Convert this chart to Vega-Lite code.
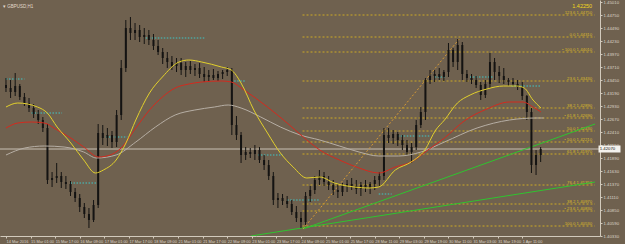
{
"$schema": "https://vega.github.io/schema/vega-lite/v6.json",
"width": 600, "height": 236,
"autosize": {"type": "none"},
"padding": {"left": 0, "top": 0, "right": 25, "bottom": 8},
"background": "#6f614f",
"resolve": {"axis": {"x": "independent", "y": "independent"}},
"config": {"view": {"stroke": null, "fill": "#6f614f"},
 "axis": {"grid": false, "labelFont": "Liberation Sans", "domainColor": "#d2cabc", "tickColor": "#d2cabc", "labelColor": "#ddd5c9", "labelOverlap": false, "labelFlush": false, "labelBound": false, "tickSize": 2, "title": null},
 "axisX": {"labelFontSize": 3.9, "labelAlign": "left", "labelBaseline": "top", "labelPadding": 1, "labelDx": 1},
 "axisY": {"labelFontSize": 4.3, "labelPadding": 1}},
"title": {"text": "▾ GBPUSD,H1", "anchor": "start", "frame": "group", "offset": -8, "dx": 3, "fontSize": 4.5, "fontWeight": "normal", "font": "Liberation Sans", "color": "#e2dacd"},
"datasets": {
"candles": [
{"b":0,"o":1.4335,"h":1.4349,"l":1.4321,"c":1.4329},
{"b":3,"o":1.4329,"h":1.4345,"l":1.4309,"c":1.4321},
{"b":6,"o":1.4321,"h":1.4359,"l":1.4313,"c":1.4333},
{"b":9,"o":1.4333,"h":1.4337,"l":1.4305,"c":1.4311},
{"b":12,"o":1.4311,"h":1.4319,"l":1.4293,"c":1.4299},
{"b":15,"o":1.4299,"h":1.4309,"l":1.4281,"c":1.4289},
{"b":18,"o":1.4289,"h":1.4297,"l":1.4269,"c":1.4277},
{"b":21,"o":1.4277,"h":1.4285,"l":1.4257,"c":1.4265},
{"b":24,"o":1.4265,"h":1.4271,"l":1.4241,"c":1.4249},
{"b":27,"o":1.4249,"h":1.4257,"l":1.4137,"c":1.4145},
{"b":30,"o":1.4145,"h":1.4161,"l":1.4131,"c":1.4149},
{"b":33,"o":1.4149,"h":1.4179,"l":1.4139,"c":1.4153},
{"b":36,"o":1.4153,"h":1.4161,"l":1.4129,"c":1.4141},
{"b":39,"o":1.4141,"h":1.4153,"l":1.4127,"c":1.4137},
{"b":42,"o":1.4137,"h":1.4143,"l":1.4113,"c":1.4121},
{"b":45,"o":1.4121,"h":1.4129,"l":1.4101,"c":1.4109},
{"b":48,"o":1.4109,"h":1.4117,"l":1.4081,"c":1.4091},
{"b":51,"o":1.4091,"h":1.4099,"l":1.4069,"c":1.4077},
{"b":54,"o":1.4077,"h":1.4089,"l":1.4049,"c":1.4065},
{"b":57,"o":1.4065,"h":1.4105,"l":1.4061,"c":1.4095},
{"b":60,"o":1.4095,"h":1.4257,"l":1.4089,"c":1.4239},
{"b":63,"o":1.4239,"h":1.4255,"l":1.4215,"c":1.4229},
{"b":66,"o":1.4229,"h":1.4249,"l":1.4213,"c":1.4235},
{"b":69,"o":1.4235,"h":1.4243,"l":1.4209,"c":1.4221},
{"b":72,"o":1.4221,"h":1.4285,"l":1.4211,"c":1.4275},
{"b":75,"o":1.4275,"h":1.4385,"l":1.4265,"c":1.4369},
{"b":78,"o":1.4369,"h":1.4465,"l":1.4361,"c":1.4449},
{"b":81,"o":1.4449,"h":1.4471,"l":1.4425,"c":1.4439},
{"b":84,"o":1.4439,"h":1.4459,"l":1.4425,"c":1.4445},
{"b":87,"o":1.4445,"h":1.4455,"l":1.4421,"c":1.4431},
{"b":90,"o":1.4431,"h":1.4449,"l":1.4417,"c":1.4435},
{"b":93,"o":1.4435,"h":1.4445,"l":1.4415,"c":1.4425},
{"b":96,"o":1.4425,"h":1.4437,"l":1.4405,"c":1.4413},
{"b":99,"o":1.4413,"h":1.4425,"l":1.4395,"c":1.4401},
{"b":102,"o":1.4401,"h":1.4409,"l":1.4377,"c":1.4389},
{"b":105,"o":1.4389,"h":1.4401,"l":1.4369,"c":1.4381},
{"b":108,"o":1.4381,"h":1.4393,"l":1.4365,"c":1.4373},
{"b":111,"o":1.4373,"h":1.4389,"l":1.4361,"c":1.4379},
{"b":114,"o":1.4379,"h":1.4389,"l":1.4355,"c":1.4365},
{"b":117,"o":1.4365,"h":1.4381,"l":1.4351,"c":1.4373},
{"b":120,"o":1.4373,"h":1.4383,"l":1.4357,"c":1.4365},
{"b":123,"o":1.4365,"h":1.4377,"l":1.4353,"c":1.4369},
{"b":126,"o":1.4369,"h":1.4379,"l":1.4349,"c":1.4357},
{"b":129,"o":1.4357,"h":1.4371,"l":1.4341,"c":1.4351},
{"b":132,"o":1.4351,"h":1.4365,"l":1.4341,"c":1.4355},
{"b":135,"o":1.4355,"h":1.4367,"l":1.4345,"c":1.4349},
{"b":138,"o":1.4349,"h":1.4363,"l":1.4343,"c":1.4357},
{"b":141,"o":1.4357,"h":1.4365,"l":1.4347,"c":1.4361},
{"b":144,"o":1.4361,"h":1.4371,"l":1.4353,"c":1.4365},
{"b":147,"o":1.4365,"h":1.4369,"l":1.4235,"c":1.4255},
{"b":150,"o":1.4255,"h":1.4273,"l":1.4225,"c":1.4235},
{"b":153,"o":1.4235,"h":1.4241,"l":1.4179,"c":1.4195},
{"b":156,"o":1.4195,"h":1.4211,"l":1.4185,"c":1.4201},
{"b":159,"o":1.4201,"h":1.4209,"l":1.4189,"c":1.4197},
{"b":162,"o":1.4197,"h":1.4215,"l":1.4185,"c":1.4205},
{"b":165,"o":1.4205,"h":1.4211,"l":1.4179,"c":1.4185},
{"b":168,"o":1.4185,"h":1.4195,"l":1.4165,"c":1.4175},
{"b":171,"o":1.4175,"h":1.4185,"l":1.4145,"c":1.4153},
{"b":174,"o":1.4153,"h":1.4161,"l":1.4095,"c":1.4105},
{"b":177,"o":1.4105,"h":1.4119,"l":1.4089,"c":1.4109},
{"b":180,"o":1.4109,"h":1.4117,"l":1.4095,"c":1.4103},
{"b":183,"o":1.4103,"h":1.4113,"l":1.4089,"c":1.4097},
{"b":186,"o":1.4097,"h":1.4105,"l":1.4075,"c":1.4081},
{"b":189,"o":1.4081,"h":1.4093,"l":1.4061,"c":1.4069},
{"b":192,"o":1.4069,"h":1.4081,"l":1.4049,"c":1.4061},
{"b":195,"o":1.4061,"h":1.4121,"l":1.4055,"c":1.4113},
{"b":198,"o":1.4113,"h":1.4133,"l":1.4101,"c":1.4125},
{"b":201,"o":1.4125,"h":1.4153,"l":1.4117,"c":1.4145},
{"b":204,"o":1.4145,"h":1.4165,"l":1.4135,"c":1.4153},
{"b":207,"o":1.4153,"h":1.4161,"l":1.4133,"c":1.4141},
{"b":210,"o":1.4141,"h":1.4153,"l":1.4125,"c":1.4135},
{"b":213,"o":1.4135,"h":1.4145,"l":1.4115,"c":1.4125},
{"b":216,"o":1.4125,"h":1.4137,"l":1.4109,"c":1.4121},
{"b":219,"o":1.4121,"h":1.4139,"l":1.4113,"c":1.4133},
{"b":222,"o":1.4133,"h":1.4145,"l":1.4121,"c":1.4137},
{"b":225,"o":1.4137,"h":1.4149,"l":1.4125,"c":1.4133},
{"b":228,"o":1.4133,"h":1.4145,"l":1.4117,"c":1.4127},
{"b":231,"o":1.4127,"h":1.4141,"l":1.4113,"c":1.4135},
{"b":234,"o":1.4135,"h":1.4145,"l":1.4121,"c":1.4129},
{"b":237,"o":1.4129,"h":1.4141,"l":1.4117,"c":1.4137},
{"b":240,"o":1.4137,"h":1.4153,"l":1.4125,"c":1.4145},
{"b":243,"o":1.4145,"h":1.4161,"l":1.4133,"c":1.4153},
{"b":246,"o":1.4153,"h":1.4249,"l":1.4145,"c":1.4235},
{"b":249,"o":1.4235,"h":1.4249,"l":1.4219,"c":1.4229},
{"b":252,"o":1.4229,"h":1.4245,"l":1.4217,"c":1.4237},
{"b":255,"o":1.4237,"h":1.4241,"l":1.4213,"c":1.4225},
{"b":258,"o":1.4225,"h":1.4235,"l":1.4205,"c":1.4215},
{"b":261,"o":1.4215,"h":1.4225,"l":1.4195,"c":1.4201},
{"b":264,"o":1.4201,"h":1.4219,"l":1.4179,"c":1.4211},
{"b":267,"o":1.4211,"h":1.4265,"l":1.4205,"c":1.4255},
{"b":270,"o":1.4255,"h":1.4291,"l":1.4249,"c":1.4281},
{"b":273,"o":1.4281,"h":1.4349,"l":1.4265,"c":1.4345},
{"b":276,"o":1.4345,"h":1.4365,"l":1.4337,"c":1.4353},
{"b":279,"o":1.4353,"h":1.4365,"l":1.4341,"c":1.4357},
{"b":282,"o":1.4357,"h":1.4369,"l":1.4345,"c":1.4351},
{"b":285,"o":1.4351,"h":1.4365,"l":1.4343,"c":1.4361},
{"b":288,"o":1.4361,"h":1.4419,"l":1.4351,"c":1.4405},
{"b":291,"o":1.4405,"h":1.4409,"l":1.4371,"c":1.4381},
{"b":294,"o":1.4381,"h":1.4427,"l":1.4365,"c":1.4415},
{"b":297,"o":1.4415,"h":1.4421,"l":1.4345,"c":1.4357},
{"b":300,"o":1.4357,"h":1.4365,"l":1.4341,"c":1.4349},
{"b":303,"o":1.4349,"h":1.4357,"l":1.4337,"c":1.4345},
{"b":306,"o":1.4345,"h":1.4353,"l":1.4329,"c":1.4335},
{"b":309,"o":1.4335,"h":1.4341,"l":1.4305,"c":1.4315},
{"b":312,"o":1.4315,"h":1.4345,"l":1.4309,"c":1.4337},
{"b":315,"o":1.4337,"h":1.4399,"l":1.4329,"c":1.4381},
{"b":318,"o":1.4381,"h":1.4389,"l":1.4345,"c":1.4361},
{"b":321,"o":1.4361,"h":1.4373,"l":1.4339,"c":1.4353},
{"b":324,"o":1.4353,"h":1.4369,"l":1.4337,"c":1.4345},
{"b":327,"o":1.4345,"h":1.4349,"l":1.4333,"c":1.4341},
{"b":330,"o":1.4341,"h":1.4349,"l":1.4333,"c":1.4337},
{"b":333,"o":1.4337,"h":1.4345,"l":1.4325,"c":1.4331},
{"b":336,"o":1.4331,"h":1.4341,"l":1.4305,"c":1.4313},
{"b":339,"o":1.4313,"h":1.4315,"l":1.4265,"c":1.4281},
{"b":342,"o":1.4281,"h":1.4289,"l":1.4159,"c":1.4175},
{"b":345,"o":1.4175,"h":1.4205,"l":1.4155,"c":1.4195},
{"b":348,"o":1.4195,"h":1.4211,"l":1.4181,"c":1.4207}
],
"ma": [
{"s":"g","b":0,"p":1.4195},{"s":"g","b":12.2,"p":1.4209},{"s":"g","b":25,"p":1.4213},{"s":"g","b":37.8,"p":1.4211},{"s":"g","b":50.6,"p":1.4201},{"s":"g","b":58.9,"p":1.4189},{"s":"g","b":71.7,"p":1.4195},{"s":"g","b":84.5,"p":1.4221},{"s":"g","b":97.3,"p":1.4251},{"s":"g","b":110.1,"p":1.4275},{"s":"g","b":122.9,"p":1.4285},{"s":"g","b":135.7,"p":1.4291},{"s":"g","b":144.6,"p":1.4295},{"s":"g","b":153,"p":1.4289},{"s":"g","b":165.8,"p":1.4271},{"s":"g","b":178.6,"p":1.4251},{"s":"g","b":191.4,"p":1.4235},{"s":"g","b":204.2,"p":1.4225},{"s":"g","b":217,"p":1.4213},{"s":"g","b":229.8,"p":1.4201},{"s":"g","b":242.6,"p":1.4193},{"s":"g","b":255.4,"p":1.4193},{"s":"g","b":270.1,"p":1.4201},{"s":"g","b":285.4,"p":1.4221},{"s":"g","b":306.6,"p":1.4249},{"s":"g","b":327.7,"p":1.4265},{"s":"g","b":345,"p":1.4269},{"s":"g","b":350,"p":1.4269},
{"s":"r","b":0,"p":1.4249},{"s":"r","b":7.7,"p":1.4259},{"s":"r","b":16.6,"p":1.4261},{"s":"r","b":25,"p":1.4259},{"s":"r","b":33.3,"p":1.4245},{"s":"r","b":42.2,"p":1.4229},{"s":"r","b":50.6,"p":1.4211},{"s":"r","b":60.2,"p":1.4191},{"s":"r","b":67.8,"p":1.4195},{"s":"r","b":74.9,"p":1.4209},{"s":"r","b":84.5,"p":1.4249},{"s":"r","b":93.4,"p":1.4285},{"s":"r","b":101.8,"p":1.4311},{"s":"r","b":110.1,"p":1.4329},{"s":"r","b":119,"p":1.4337},{"s":"r","b":127.4,"p":1.4341},{"s":"r","b":140.2,"p":1.4343},{"s":"r","b":146.6,"p":1.4341},{"s":"r","b":154.9,"p":1.4325},{"s":"r","b":170.2,"p":1.4291},{"s":"r","b":183,"p":1.4259},{"s":"r","b":195.8,"p":1.4225},{"s":"r","b":204.2,"p":1.4205},{"s":"r","b":217,"p":1.4185},{"s":"r","b":229.8,"p":1.4169},{"s":"r","b":242.6,"p":1.4159},{"s":"r","b":253.4,"p":1.4171},{"s":"r","b":263.7,"p":1.4181},{"s":"r","b":274.6,"p":1.4205},{"s":"r","b":285.4,"p":1.4229},{"s":"r","b":298.2,"p":1.4263},{"s":"r","b":313,"p":1.4287},{"s":"r","b":327.7,"p":1.4301},{"s":"r","b":336.6,"p":1.4301},{"s":"r","b":343,"p":1.4291},{"s":"r","b":348.2,"p":1.4281},
{"s":"y","b":0,"p":1.4291},{"s":"y","b":7.7,"p":1.4299},{"s":"y","b":20.5,"p":1.4291},{"s":"y","b":26.9,"p":1.4279},{"s":"y","b":33.3,"p":1.4251},{"s":"y","b":42.2,"p":1.4219},{"s":"y","b":50.6,"p":1.4185},{"s":"y","b":58.2,"p":1.4159},{"s":"y","b":63.4,"p":1.4165},{"s":"y","b":71.7,"p":1.4185},{"s":"y","b":78.1,"p":1.4219},{"s":"y","b":84.5,"p":1.4265},{"s":"y","b":93.4,"p":1.4319},{"s":"y","b":101.8,"p":1.4351},{"s":"y","b":112.6,"p":1.4381},{"s":"y","b":119,"p":1.4385},{"s":"y","b":127.4,"p":1.4381},{"s":"y","b":140.2,"p":1.4371},{"s":"y","b":146.6,"p":1.4365},{"s":"y","b":153,"p":1.4339},{"s":"y","b":161.3,"p":1.4285},{"s":"y","b":170.2,"p":1.4239},{"s":"y","b":178.6,"p":1.4199},{"s":"y","b":186.9,"p":1.4171},{"s":"y","b":195.8,"p":1.4149},{"s":"y","b":204.2,"p":1.4151},{"s":"y","b":213.8,"p":1.4139},{"s":"y","b":226.6,"p":1.4131},{"s":"y","b":236.2,"p":1.4129},{"s":"y","b":242.6,"p":1.4131},{"s":"y","b":253.4,"p":1.4165},{"s":"y","b":263.7,"p":1.4181},{"s":"y","b":272.6,"p":1.4205},{"s":"y","b":279.7,"p":1.4245},{"s":"y","b":285.4,"p":1.4265},{"s":"y","b":293.8,"p":1.4299},{"s":"y","b":302.1,"p":1.4315},{"s":"y","b":313,"p":1.4327},{"s":"y","b":323.8,"p":1.4333},{"s":"y","b":332.2,"p":1.4333},{"s":"y","b":337.3,"p":1.4329},{"s":"y","b":343,"p":1.4305},{"s":"y","b":348.2,"p":1.4289}
],
"trend": [
{"id":"A","b":193.3,"p":1.4047},{"id":"A","b":383.4,"p":1.4257},
{"id":"B","b":159.4,"p":1.4033},{"id":"B","b":383.4,"p":1.4141}
],
"fibline": [{"b":193.3,"p":1.4047},{"b":295,"p":1.4427}],
"fib": [
{"s":193,"p":1.4475,"t":"123.6  1.44750"},
{"s":193,"p":1.4431,"t":"0.0  1.44310"},
{"s":193,"p":1.4401,"t":"• 100.0  1.44010"},
{"s":193,"p":1.4343,"t":"23.6  1.43430"},
{"s":193,"p":1.4289,"t":"38.2  1.42890"},
{"s":193,"p":1.4269,"t":"• 61.8  1.42690"},
{"s":193,"p":1.4243,"t":"50.0  1.42430"},
{"s":193,"p":1.4221,"t":"• 50.0  1.42210"},
{"s":193,"p":1.4197,"t":"61.8  1.41970"},
{"s":193,"p":1.4135,"t":"76.4  1.41350"},
{"s":193,"p":1.4097,"t":"38.2  1.40970"},
{"s":193,"p":1.4083,"t":"• 23.6  1.40830"},
{"s":193,"p":1.4053,"t":"100.0  1.40530"}
],
"pivots": [
{"b0":0,"b1":12,"p":1.4347},{"b0":16.6,"b1":36.5,"p":1.4279},{"b0":42,"b1":60,"p":1.4139},{"b0":65,"b1":79,"p":1.4231},{"b0":91,"b1":130,"p":1.4429},{"b0":146.6,"b1":156,"p":1.4343},{"b0":164,"b1":180,"p":1.4195},{"b0":183,"b1":204,"p":1.4105},{"b0":242.6,"b1":251,"p":1.4117},{"b0":255,"b1":276,"p":1.4233},{"b0":279,"b1":286,"p":1.4351},{"b0":302,"b1":317,"p":1.4351},{"b0":329,"b1":348,"p":1.4333}
],
"bid": [{"p":1.4207,"t":"1.42070"}],
"top": [{"p":1.4493,"t":"1.42250"}]
},
"layer": [
{"data": {"name": "fib"}, "mark": {"type": "rule", "color": "#cdaa26", "strokeWidth": 1, "strokeDash": [2, 2]},
 "encoding": {
  "x": {"field": "s", "type": "quantitative", "title": null,
   "scale": {"domain": [-0.64, 383.36], "nice": false, "zero": false},
   "axis": {"values": [0,16,32,48,64,80,96,112,128,144,160,176,192,208,224,240,256,272,288,304,320,336],
    "labelExpr": "['14 Mar 2016','15 Mar 01:00','15 Mar 17:00','16 Mar 09:00','17 Mar 01:00','17 Mar 17:00','18 Mar 09:00','21 Mar 01:00','21 Mar 17:00','22 Mar 09:00','23 Mar 01:00','23 Mar 17:00','24 Mar 09:00','25 Mar 01:00','25 Mar 17:00','28 Mar 11:00','29 Mar 03:00','29 Mar 19:00','30 Mar 11:00','31 Mar 03:00','31 Mar 19:00','1 Apr 11:00'][round(datum.value/16)]",
    "title": null, "labelOverlap": false}},
  "x2": {"datum": 383.36},
  "y": {"field": "p", "type": "quantitative", "title": null,
   "scale": {"domain": [1.4033, 1.4505], "nice": false, "zero": false},
   "axis": {"orient": "right", "values": [1.4501,1.4475,1.4449,1.4423,1.4397,1.4371,1.4345,1.4319,1.4293,1.4267,1.4241,1.4215,1.4189,1.4163,1.4137,1.4111,1.4085,1.4059,1.4033],
    "format": ".5f", "title": null, "labelOverlap": false}}
 }},
{"data": {"name": "fib"}, "mark": {"type": "text", "align": "right", "baseline": "bottom", "dy": -0.5, "fontSize": 4.3, "font": "Liberation Sans", "color": "#dcbc2a"},
 "encoding": {"x": {"datum": 381.5, "axis": null}, "y": {"field": "p", "type": "quantitative", "axis": null}, "text": {"field": "t"}}},
{"data": {"name": "bid"}, "mark": {"type": "rule", "color": "#c9c1b5", "strokeWidth": 1},
 "encoding": {"y": {"field": "p", "type": "quantitative", "axis": null}}},
{"data": {"name": "pivots"}, "mark": {"type": "rule", "color": "#3fc6c6", "strokeWidth": 1, "strokeDash": [1.5, 1.5]},
 "encoding": {"x": {"field": "b0", "type": "quantitative", "axis": null}, "x2": {"field": "b1"}, "y": {"field": "p", "type": "quantitative", "axis": null}}},
{"data": {"name": "trend"}, "mark": {"type": "line", "color": "#2fc42f", "strokeWidth": 1, "clip": true},
 "encoding": {"x": {"field": "b", "type": "quantitative", "axis": null}, "y": {"field": "p", "type": "quantitative", "axis": null}, "detail": {"field": "id"}}},
{"data": {"name": "fibline"}, "mark": {"type": "line", "color": "#d79a34", "strokeWidth": 1, "strokeDash": [2, 2]},
 "encoding": {"x": {"field": "b", "type": "quantitative", "axis": null}, "y": {"field": "p", "type": "quantitative", "axis": null}}},
{"data": {"name": "candles"}, "mark": {"type": "rule", "color": "#141312", "strokeWidth": 1},
 "encoding": {"x": {"field": "b", "type": "quantitative", "axis": null}, "y": {"field": "l", "type": "quantitative", "axis": null}, "y2": {"field": "h"}}},
{"data": {"name": "candles"}, "mark": {"type": "bar", "color": "#141312", "width": 2},
 "encoding": {"x": {"field": "b", "type": "quantitative", "axis": null}, "y": {"field": "o", "type": "quantitative", "axis": null}, "y2": {"field": "c"}}},
{"data": {"name": "ma"}, "mark": {"type": "line", "strokeWidth": 1, "interpolate": "monotone"},
 "encoding": {"x": {"field": "b", "type": "quantitative", "axis": null}, "y": {"field": "p", "type": "quantitative", "axis": null},
  "color": {"field": "s", "type": "nominal", "legend": null, "scale": {"domain": ["g", "r", "y"], "range": ["#b6aea4", "#d42a1e", "#e2d02c"]}}}},
{"data": {"name": "top"}, "mark": {"type": "text", "align": "right", "baseline": "middle", "fontSize": 5.5, "font": "Liberation Sans", "color": "#f2d81c"},
 "encoding": {"x": {"datum": 381.5, "axis": null}, "y": {"field": "p", "type": "quantitative", "axis": null}, "text": {"field": "t"}}},
{"data": {"name": "bid"}, "mark": {"type": "tick", "orient": "horizontal", "color": "#f4f2ee", "thickness": 7, "size": 22, "opacity": 1},
 "encoding": {"x": {"datum": 392.8, "axis": null}, "y": {"field": "p", "type": "quantitative", "axis": null}}},
{"data": {"name": "bid"}, "mark": {"type": "text", "align": "left", "baseline": "middle", "fontSize": 4.3, "font": "Liberation Sans", "color": "#111111"},
 "encoding": {"x": {"datum": 386.4, "axis": null}, "y": {"field": "p", "type": "quantitative", "axis": null}, "text": {"field": "t"}}}
]
}
